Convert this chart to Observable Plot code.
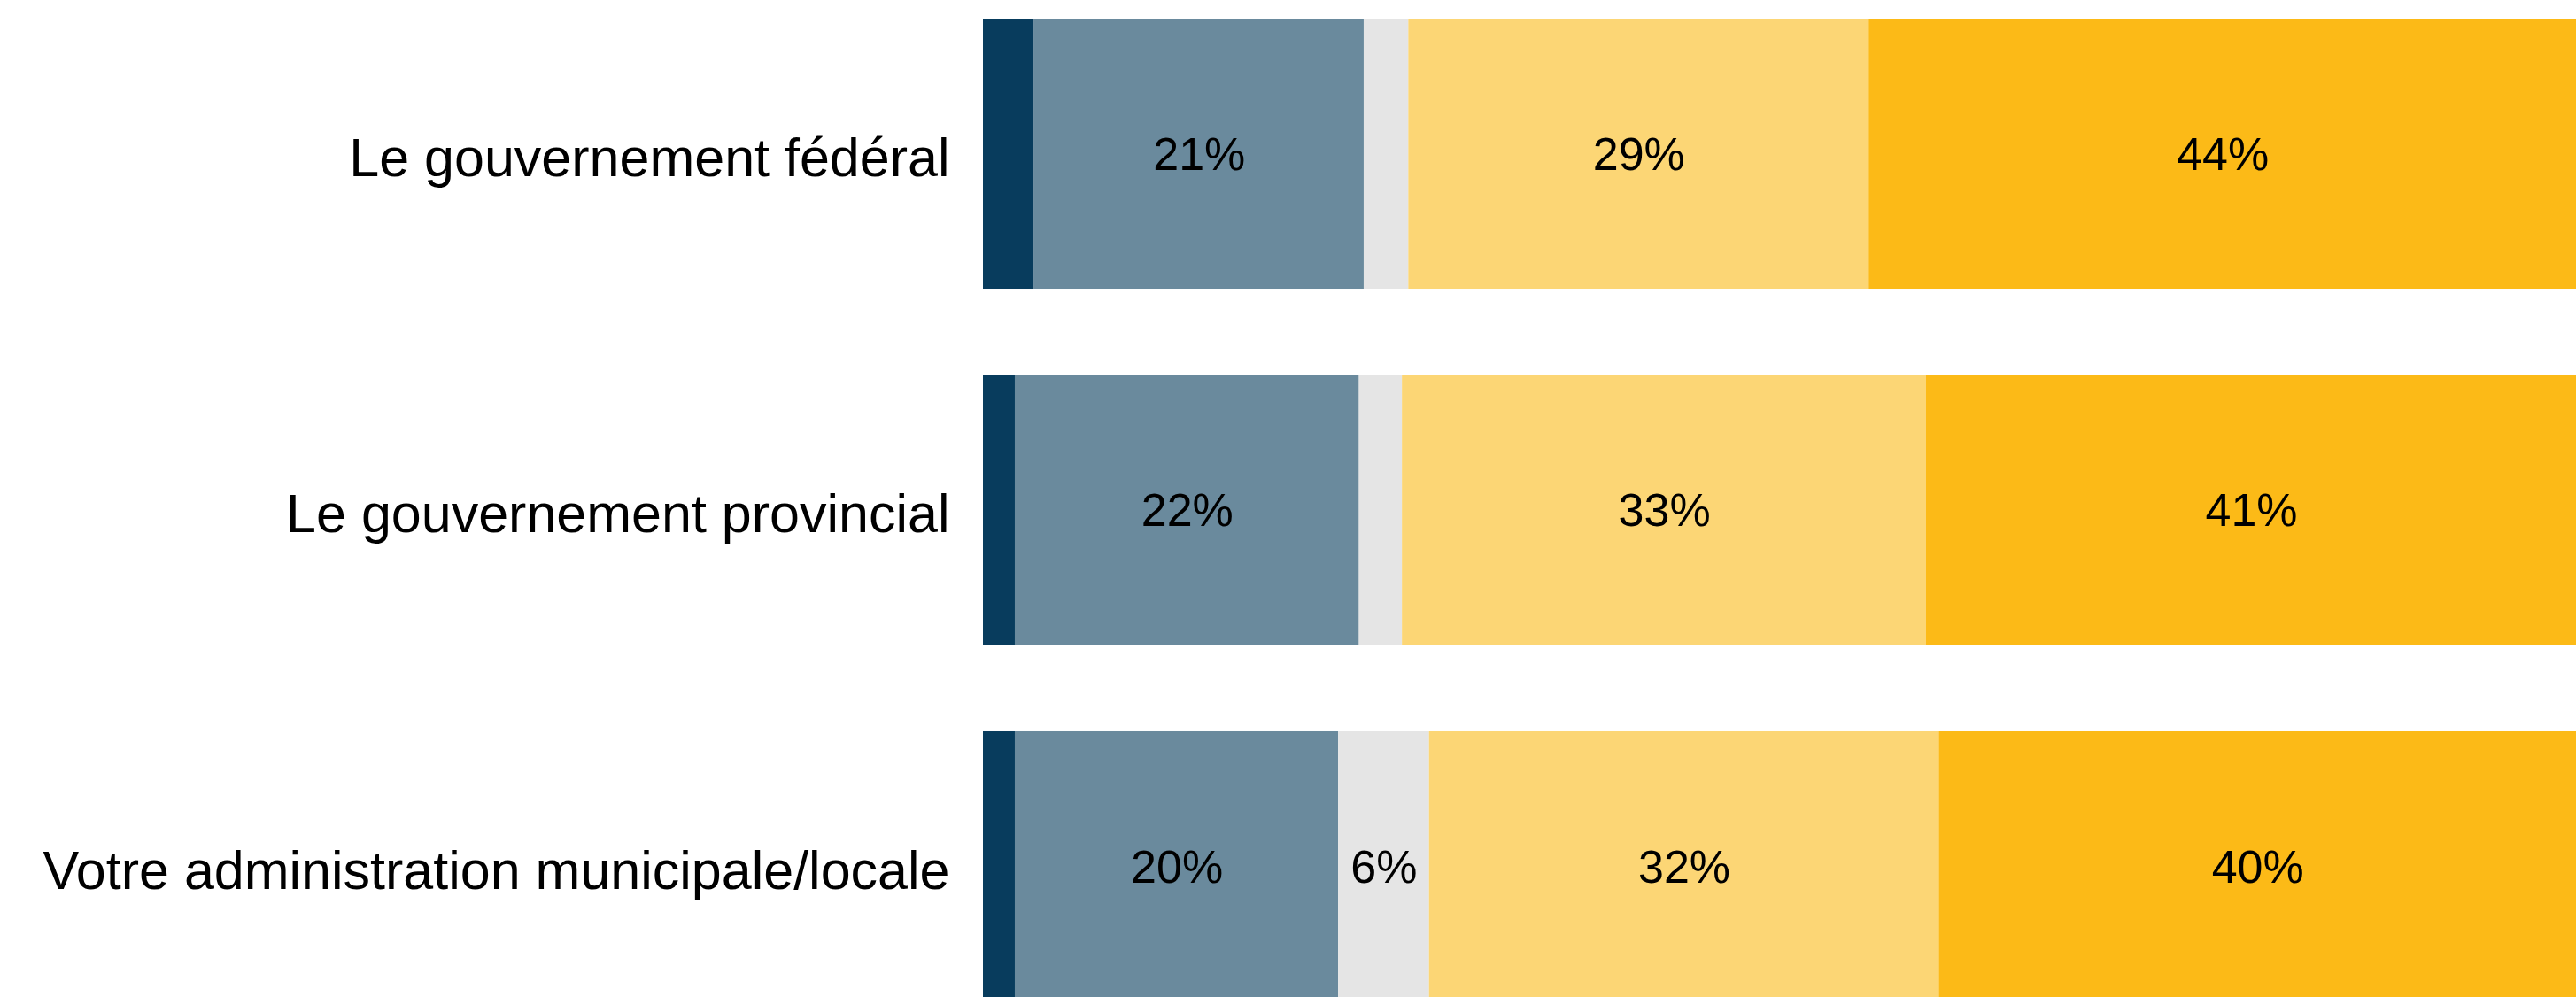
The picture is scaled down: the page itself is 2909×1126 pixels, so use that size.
<!DOCTYPE html>
<html>
<head>
<meta charset="utf-8">
<script src="https://cdn.jsdelivr.net/npm/d3@7"></script>
<script src="https://cdn.jsdelivr.net/npm/@observablehq/plot@0.6"></script>
<style>
  html, body { margin: 0; padding: 0; background: #ffffff; }
  #chart svg { display: block; }
</style>
</head>
<body>
<div id="chart"></div>
<script>
const categories = [
  "Le gouvernement fédéral",
  "Le gouvernement provincial",
  "Votre administration municipale/locale"
];
const responses = ["r1", "r2", "r3", "r4", "r5"];
const colors = ["#083c5d", "#6a8a9d", "#e5e5e5", "#fcd675", "#fcba17"];
const valuesFederal = [3.2, 20.7, 2.8, 28.9, 44.4];
const valuesProvincial = [2.0, 21.6, 2.7, 32.9, 40.8];
const valuesMunicipal = [2.0, 20.3, 5.7, 32.0, 40.0];

const seriesByCategory = [valuesFederal, valuesProvincial, valuesMunicipal];
const data = [];
categories.forEach((c, i) => {
  responses.forEach((r, j) => {
    data.push({category: c, response: r, value: seriesByCategory[i][j]});
  });
});

const font = "'Liberation Sans Narrow', 'Liberation Sans', sans-serif";

const chart = Plot.plot({
  width: 2909,
  height: 1126,
  marginLeft: 1110,
  marginRight: 0,
  marginTop: 0,
  marginBottom: 0,
  style: {fontFamily: font, background: "#ffffff", overflow: "hidden"},
  x: {domain: [0, 100], axis: null},
  y: {domain: categories, range: [21, 1131], paddingInner: 0.2422, paddingOuter: 0, align: 0, round: false, label: null},
  color: {domain: responses, range: colors},
  marks: [
    Plot.barX(data, Plot.stackX({x: "value", y: "category", fill: "response"})),
    Plot.text(data, Plot.stackX({
      x: "value", y: "category",
      text: d => d.value >= 5 ? Math.round(d.value) + "%" : "",
      fill: "#000000", fontSize: 52, dy: 1
    })),
    Plot.axisY({tickSize: 0, tickPadding: 38, fontSize: 61, dy: 5, fill: "#000000", label: null})
  ]
});
document.getElementById("chart").appendChild(chart);
</script>
</body>
</html>
